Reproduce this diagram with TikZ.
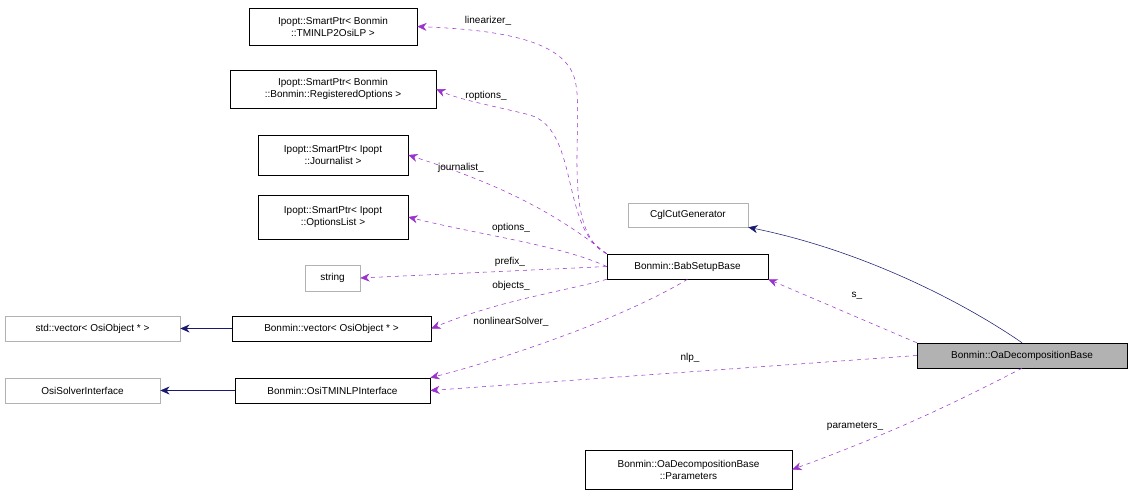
\documentclass[tikz,border=0pt]{standalone}
\usepackage{fontspec}
\setmainfont{Liberation Sans}
\usetikzlibrary{arrows.meta}
\definecolor{pur}{HTML}{9A32CD}
\definecolor{nav}{HTML}{191970}
\begin{document}
\begin{tikzpicture}[x=0.75pt,y=-0.75pt,
 box/.style={draw=black,fill=white,inner sep=0pt,align=center,font=\fontsize{7.5}{9}\selectfont},
 gbox/.style={box,draw=gray!60},
 dep/.style={pur,dashed,-{Stealth[length=7pt,width=6pt]}},
 inh/.style={nav,-{Stealth[length=7pt,width=6pt]}},
 lab/.style={font=\fontsize{7.5}{9}\selectfont,text=black,inner sep=1pt}]
\useasboundingbox (0,0) rectangle (1131,496);
\node[box,minimum width=168*0.75pt,minimum height=37*0.75pt] (lp) at (333,26.5) {Ipopt::SmartPtr< Bonmin\\::TMINLP2OsiLP >};
\node[box,minimum width=206*0.75pt,minimum height=38*0.75pt] (ro) at (333,89) {Ipopt::SmartPtr< Bonmin\\::Bonmin::RegisteredOptions >};
\node[box,minimum width=150*0.75pt,minimum height=40*0.75pt] (jo) at (333,155) {Ipopt::SmartPtr< Ipopt\\::Journalist >};
\node[box,minimum width=150*0.75pt,minimum height=44*0.75pt] (ol) at (333,217) {Ipopt::SmartPtr< Ipopt\\::OptionsList >};
\node[gbox,minimum width=55*0.75pt,minimum height=26*0.75pt] (st) at (332.5,278) {string};
\node[gbox,minimum width=175*0.75pt,minimum height=25*0.75pt] (sv) at (92.5,328.5) {std::vector< OsiObject * >};
\node[box,minimum width=199*0.75pt,minimum height=25*0.75pt] (bv) at (331.5,328.5) {Bonmin::vector< OsiObject * >};
\node[gbox,minimum width=155*0.75pt,minimum height=25*0.75pt] (os) at (82.5,390.5) {OsiSolverInterface};
\node[box,minimum width=195*0.75pt,minimum height=25*0.75pt] (ot) at (332.5,390.5) {Bonmin::OsiTMINLPInterface};
\node[box,minimum width=207*0.75pt,minimum height=39*0.75pt] (pa) at (688.5,469.5) {Bonmin::OaDecompositionBase\\::Parameters};
\node[gbox,minimum width=120*0.75pt,minimum height=24*0.75pt] (cg) at (688,215) {CglCutGenerator};
\node[box,minimum width=161*0.75pt,minimum height=25*0.75pt] (bb) at (687.5,266.5) {Bonmin::BabSetupBase};
\node[box,fill=gray!60,minimum width=210*0.75pt,minimum height=25*0.75pt] (oa) at (1022,355.5) {Bonmin::OaDecompositionBase};
\draw[inh] (bv) -- (sv);
\draw[inh] (ot) -- (os);
\draw[inh] (oa.north) .. controls (960,300) and (860,250) .. (cg.south east);
\draw[dep] (bb.north west) .. controls (560,230) and (585,120) .. (575,80) .. controls (565,40) and (500,30) .. (lp.east);
\draw[dep] (bb.north west) .. controls (560,230) and (580,130) .. (530,115) .. controls (490,105) and (460,100) .. (ro.east);
\draw[dep] (bb.north west) .. controls (540,200) and (470,175) .. (jo.east);
\draw[dep] (bb.west) .. controls (560,245) and (480,235) .. (ol.east);
\draw[dep] (bb.west) -- (st.east);
\draw[dep] (bb.south west) .. controls (570,290) and (500,300) .. (bv.east);
\draw[dep] (bb.south) .. controls (620,320) and (500,360) .. (ot.north east);
\draw[dep] (oa.west) -- (ot.east);
\draw[dep] (oa.north west) -- (bb.south east);
\draw[dep] (oa.south) .. controls (960,400) and (900,430) .. (pa.east);
\node[lab] (l1) at (488,21) {linearizer\_};
\node[lab] (l2) at (486,96) {roptions\_};
\node[lab] (l3) at (461,168) {journalist\_};
\node[lab] (l4) at (511,228) {options\_};
\node[lab] (l5) at (510,262) {prefix\_};
\node[lab] (l6) at (511,286) {objects\_};
\node[lab] (l7) at (511,322) {nonlinearSolver\_};
\node[lab] (l8) at (690,358) {nlp\_};
\node[lab] (l9) at (857,296) {s\_};
\node[lab] (l10) at (855,426) {parameters\_};
\end{tikzpicture}
\end{document}
